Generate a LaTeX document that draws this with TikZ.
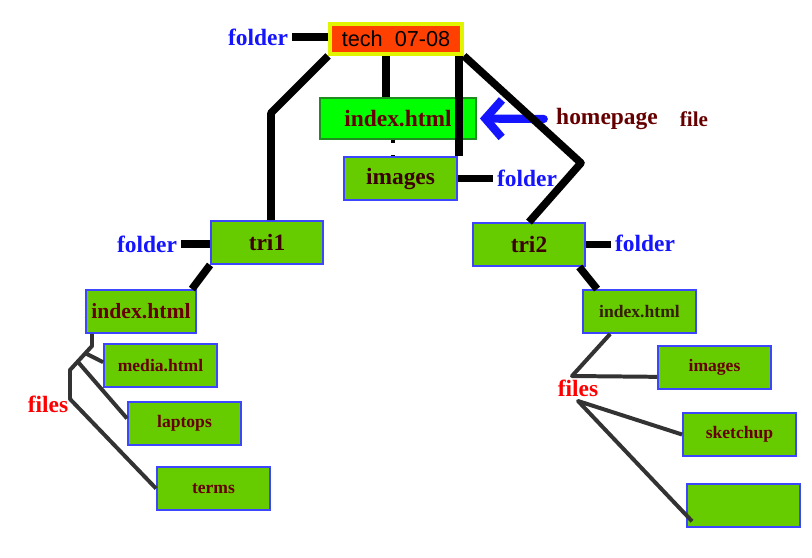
\documentclass[tikz,border=0pt]{standalone}
\usepackage{fontspec}
\setmainfont{Liberation Serif}
\newfontfamily\techfont{Liberation Sans}
\usepackage{xcolor}
\usetikzlibrary{arrows.meta, calc}

\definecolor{leaf}{RGB}{102,204,0}
\definecolor{lime}{RGB}{0,255,0}
\definecolor{limeedge}{RGB}{30,140,30}
\definecolor{boxblue}{RGB}{60,70,255}
\definecolor{techred}{RGB}{255,64,0}
\definecolor{glow}{RGB}{225,245,0}
\definecolor{maroon}{RGB}{102,0,0}
\definecolor{darkred}{RGB}{60,0,0}
\definecolor{folderblue}{RGB}{20,20,255}
\definecolor{twiggray}{RGB}{51,51,51}

\begin{document}
\begin{tikzpicture}[x=0.03cm, y=-0.03cm,
  box/.style={draw=boxblue, line width=1.6pt, fill=leaf, minimum width=3.39cm, minimum height=1.29cm, inner sep=0pt, text=maroon, font=\fontsize{15}{17}\selectfont\bfseries},
  bigbox/.style={box, text=darkred, font=\fontsize{20}{22}\selectfont\bfseries},
  link/.style={line width=6.5pt, black, line join=round},
  twig/.style={line width=3.4pt, twiggray, line join=round},
  tag/.style={font=\fontsize{20}{22}\selectfont\bfseries}]

\useasboundingbox (0,0) rectangle (812,557);

% Define nodes
\node[draw=glow, line width=3.2pt, fill=techred, minimum width=3.96cm, minimum height=0.9cm, inner sep=0pt, font=\techfont\fontsize{18.5}{20}\selectfont] (tech) at (396,39) {tech~~07-08};
\node[box, draw=limeedge, line width=1pt, fill=lime, minimum width=4.68cm, minimum height=1.23cm, text=maroon, font=\fontsize{20}{22}\selectfont\bfseries] (topidx) at (398,118.5) {index.html};
\node[bigbox] (topimg) at (400.5,178.5) {images};
\node[bigbox, minimum width=3.36cm] (tri1) at (267,242.5) {tri1};
\node[bigbox, minimum width=3.36cm] (tri2) at (529,244.5) {tri2};

\node[box, minimum width=3.3cm, text=maroon, font=\fontsize{18.5}{20}\selectfont\bfseries] (idxL) at (141,311.5) {index.html};
\node[box] (media) at (160.5,365.5) {media.html};
\node[box] (laptops) at (184.5,423.5) {laptops};
\node[box] (terms) at (213.5,488.5) {terms};

\node[box, text=darkred!60!olive!60!black] (idxR) at (639.5,311.5) {index.html};
\node[box] (imgR) at (714.5,367.5) {images};
\node[box] (sketch) at (739.5,434.5) {sketchup};
\node[box] (blank) at (743.5,505.5) {};

% Labels
\node[tag, folderblue] (fldTech) at (258,37) {folder};
\node[tag, maroon] (hp) at (607,119) {homepage};
\node[maroon, font=\fontsize{18}{20}\selectfont\bfseries] (hpfile) at (694,119) {file};
\node[tag, folderblue] (fldImg) at (527,178) {folder};
\node[tag, folderblue] (fldTri1) at (147,244) {folder};
\node[tag, folderblue] (fldTri2) at (645,243) {folder};
\node[tag, red] (filesL) at (48,404) {files};
\node[tag, red] (filesR) at (578,388) {files};

% Homepage pointer
\draw[folderblue, line width=7pt, line cap=round, -{Straight Barb[length=14pt, width=32pt]}]
  ([xshift=-0.25cm]hp.west) -- ([xshift=0.1cm]topidx.east);

% Folder links
\coordinate (bendL) at (271,113);
\coordinate (bendR) at (581,163);
\draw[link] (fldTech.east) -- (fldTech.east -| tech.west);
\draw[link] (tech.south west) -- (bendL) -- (bendL |- tri1.north);
\draw[link] ([xshift=-0.3cm]tech.south) -- ([xshift=-0.3cm]tech.south |- topidx.north);
\draw[link] ([xshift=-0.15cm]tech.south east) -- ([xshift=-0.15cm]tech.south east |- topimg.north);
\draw[link] (tech.south east) -- (bendR) -- (tri2.north);
\draw[line width=3pt, dash pattern=on 2.5pt off 11pt] ([xshift=-0.15cm]topidx.south) -- ([xshift=-0.15cm]topidx.south |- topimg.north);
\draw[link] (topimg.east) -- (topimg.east -| fldImg.west);
\draw[link] (fldTri1.east) -- (fldTri1.east -| tri1.west);
\draw[link] (tri2.east) -- (tri2.east -| fldTri2.west);
\draw[link] (tri1.south west) -- ([xshift=-0.15cm]idxL.north east);
\draw[link] ([xshift=-0.2cm]tri2.south east) -- ([xshift=0.45cm]idxR.north west);

% File links, left
\coordinate (jL) at (92,346);
\coordinate (kL) at (70,370);
\coordinate (mL) at (70,399);
\draw[twig] (jL |- idxL.south) -- (jL) -- (kL) -- (mL) -- (terms.west);
\draw[twig] ($(jL)!0.3!(kL)$) -- ([yshift=0.1cm]media.west);
\draw[twig] ($(jL)!0.65!(kL)$) -- ([yshift=0.15cm]laptops.west);

% File links, right
\coordinate (jR) at (572,376);
\coordinate (kR) at (578,401);
\draw[twig] ([xshift=-0.88cm]idxR.south) -- (jR) -- ([yshift=-0.28cm]imgR.west);
\draw[twig] (sketch.west) -- (kR) -- ([shift={(0.18cm,0.2cm)}]blank.south west);

\end{tikzpicture}
\end{document}
